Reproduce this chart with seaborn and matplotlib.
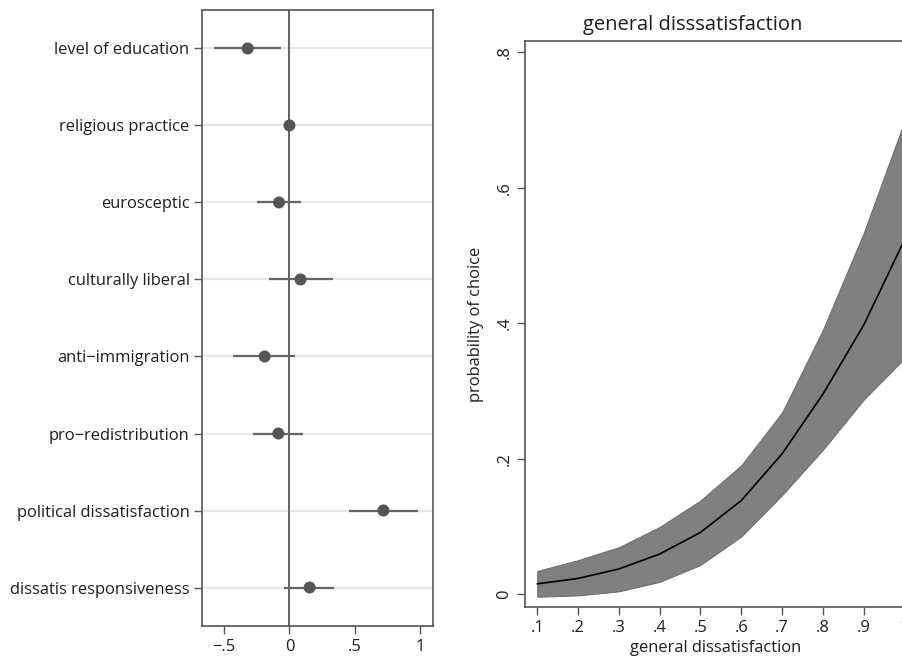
import numpy as np
import pandas as pd
import matplotlib
matplotlib.use("Agg")
import matplotlib.pyplot as plt
import seaborn as sns

# left panel: coefficients with confidence intervals
variables = ["level of education", "religious practice", "eurosceptic",
             "culturally liberal", "anti\u2212immigration", "pro\u2212redistribution",
             "political dissatisfaction", "dissatis responsiveness"]
coef = [-0.32, 0.0, -0.08, 0.085, -0.19, -0.085, 0.72, 0.155]
ci_low = [-0.58, -0.01, -0.25, -0.155, -0.43, -0.28, 0.46, -0.04]
ci_high = [-0.065, 0.01, 0.09, 0.33, 0.045, 0.105, 0.985, 0.34]

# right panel: predicted probability with band
dissat = [0.1, 0.2, 0.3, 0.4, 0.5, 0.6, 0.7, 0.8, 0.9, 1.0]
prob = [0.015, 0.023, 0.037, 0.059, 0.091, 0.138, 0.207, 0.295, 0.397, 0.523]
prob_low = [-0.004, -0.002, 0.004, 0.018, 0.043, 0.085, 0.146, 0.213, 0.287, 0.348]
prob_high = [0.034, 0.050, 0.069, 0.099, 0.138, 0.190, 0.268, 0.390, 0.533, 0.698]

sns.set_style("white")
plt.rcParams['font.family'] = ['Open Sans', 'DejaVu Sans']
plt.rcParams['font.size'] = 11.9

coef_df = pd.DataFrame({"var": variables, "coef": coef, "lo": ci_low, "hi": ci_high})
coef_df["pos"] = np.arange(len(variables))
pred_df = pd.DataFrame({"x": dissat, "p": prob, "lo": prob_low, "hi": prob_high})

fig = plt.figure(figsize=(9.03, 6.64), dpi=100)
ax1 = fig.add_axes([0.2237, 0.0572, 0.2558, 0.9278])
ax2 = fig.add_axes([0.5814, 0.0854, 0.4216, 0.8533])

edge = "#555555"
txt = "#1e1e1e"

# --- left panel
for y in coef_df["pos"]:
    ax1.axhline(y, color="#e6e6e6", lw=1.6, zorder=0)
ax1.axvline(0, color="#555555", lw=1.3, zorder=1)
ax1.hlines(coef_df["pos"], coef_df["lo"], coef_df["hi"], color="#666666", lw=1.6, zorder=2)
sns.scatterplot(data=coef_df, x="coef", y="pos", ax=ax1, color="#555555",
                s=75, edgecolor="none", zorder=3)
ax1.set_xlim(-0.67, 1.10)
ax1.set_ylim(7.5, -0.5)
ax1.set_yticks(coef_df["pos"])
ax1.set_yticklabels(variables)
ax1.set_xticks([-0.5, 0, 0.5, 1])
ax1.set_xticklabels(["\u2212.5", "0", ".5", "1"])
ax1.set_xlabel("")
ax1.set_ylabel("")
ax1.tick_params(axis="both", which="both", length=6, width=1, color=edge,
                labelsize=11.9, labelcolor=txt, pad=3, direction="out",
                bottom=True, left=True)
for sp in ax1.spines.values():
    sp.set_color(edge)
    sp.set_linewidth(1.2)

# --- right panel
ax2.fill_between(pred_df["x"], pred_df["lo"], pred_df["hi"], color="#808080",
                 edgecolor="#6e6e6e", lw=0.8, zorder=1)
sns.lineplot(data=pred_df, x="x", y="p", ax=ax2, color="black", lw=1.2, zorder=2)
ax2.set_xlim(0.07, 1.003)
ax2.set_ylim(-0.0196, 0.817)
ax2.set_xticks(dissat)
ax2.set_xticklabels([".1", ".2", ".3", ".4", ".5", ".6", ".7", ".8", ".9", "1"])
ax2.set_yticks([0, 0.2, 0.4, 0.6, 0.8])
ax2.set_yticklabels(["0", ".2", ".4", ".6", ".8"], rotation=90, va="center")
ax2.set_xlabel("general dissatisfaction", fontsize=11.9, labelpad=3, color=txt)
ax2.set_ylabel("probability of choice", fontsize=11.9, labelpad=9, color=txt)
ax2.set_title("general disssatisfaction", fontsize=14.5, pad=8, color=txt, x=0.44)
ax2.tick_params(axis="both", which="both", length=6, width=1, color=edge,
                labelsize=11.9, labelcolor=txt, pad=3, direction="out",
                bottom=True, left=True)
for sp in ax2.spines.values():
    sp.set_color(edge)
    sp.set_linewidth(1.2)

fig.savefig("out.png", dpi=100)
